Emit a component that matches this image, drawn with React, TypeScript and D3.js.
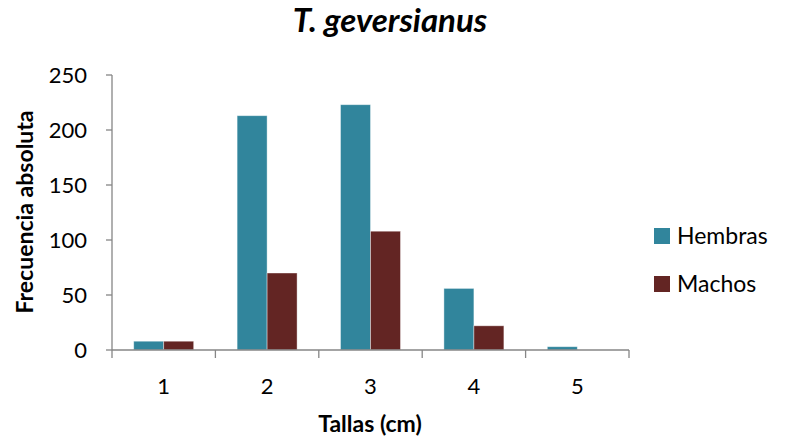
import React from "react";
import * as d3 from "d3";

const categories = ["1", "2", "3", "4", "5"];
const hembras = [8, 213, 223, 56, 3];
const machos = [8, 70, 108, 22, 0];
const seriesNames = ["Hembras", "Machos"];
const yTicks = [0, 50, 100, 150, 200, 250];

const colors = ["#31859C", "#632523"];
const FONT = "Lato, 'Open Sans', 'Liberation Sans', sans-serif";

export default function App() {
  const W = 794, H = 442;
  const left = 112, right = 629, top = 75, bottom = 350;
  const x = d3.scaleBand<string>().domain(categories).range([left, right]).padding(0);
  const y = d3.scaleLinear().domain([0, 250]).range([bottom, top]);
  const bw = x.bandwidth();
  const barW = bw * 0.29;
  const series = [hembras, machos];
  const axisColor = "#868686";

  return (
    <svg width={W} height={H} style={{ position: "absolute", left: 0, top: 0 }}>
      <rect width={W} height={H} fill="#fff" />
      <text x={390} y={32} textAnchor="middle" fontFamily={FONT} fontWeight="bold" fontStyle="italic" fontSize={33}>
        T. geversianus
      </text>
      {series.map((vals, si) =>
        vals.map((v, i) => {
          const cx = (x(categories[i]) as number) + bw / 2;
          const x0 = cx - barW + si * barW;
          return v > 0 ? (
            <rect key={`${si}-${i}`} x={x0} y={y(v)} width={barW} height={bottom - y(v)} fill={colors[si]} stroke="#ffffff" strokeOpacity={0.5} strokeWidth={0.8} />
          ) : null;
        })
      )}
      <line x1={left} x2={left} y1={top} y2={bottom} stroke={axisColor} strokeWidth={1.3} />
      {yTicks.map((t) => (
        <g key={t}>
          <line x1={left - 6} x2={left} y1={y(t)} y2={y(t)} stroke={axisColor} strokeWidth={1.3} />
          <text x={87} y={y(t)} dy="0.36em" textAnchor="end" fontFamily={FONT} fontSize={22} fill="#000">{t}</text>
        </g>
      ))}
      <line x1={left} x2={right} y1={bottom} y2={bottom} stroke={axisColor} strokeWidth={1.3} />
      {categories.concat(["end"]).map((c, i) => {
        const xx = left + i * bw;
        return <line key={c} x1={xx} x2={xx} y1={bottom} y2={bottom + 8} stroke={axisColor} strokeWidth={1.3} />;
      })}
      {categories.map((c) => (
        <text key={c} x={(x(c) as number) + bw / 2} y={394} textAnchor="middle" fontFamily={FONT} fontSize={22}>{c}</text>
      ))}
      <text x={370} y={432} textAnchor="middle" fontFamily={FONT} fontWeight="bold" fontSize={23}>Tallas (cm)</text>
      <text transform="translate(33,212) rotate(-90)" textAnchor="middle" fontFamily={FONT} fontWeight="bold" fontSize={23}>Frecuencia absoluta</text>
      {seriesNames.map((n, i) => (
        <g key={n}>
          <rect x={654} y={228 + i * 48} width={16} height={16} fill={colors[i]} />
          <text x={677} y={236 + i * 48} dy="0.36em" fontFamily={FONT} fontSize={23}>{n}</text>
        </g>
      ))}
    </svg>
  );
}
